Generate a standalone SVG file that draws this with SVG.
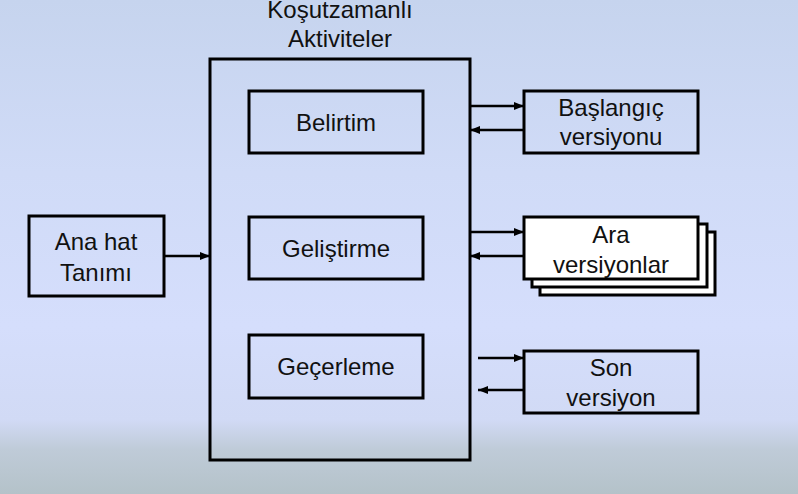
<svg xmlns="http://www.w3.org/2000/svg" width="798" height="494" viewBox="0 0 798 494">
<defs>
<linearGradient id="bg" x1="0" y1="0" x2="0" y2="1">
<stop offset="0" stop-color="#c6d4ee"/>
<stop offset="0.35" stop-color="#d0dbf7"/>
<stop offset="0.66" stop-color="#d5defc"/>
<stop offset="0.85" stop-color="#d1daf5"/>
<stop offset="0.91" stop-color="#bfcbd8"/>
<stop offset="1" stop-color="#b4c2c9"/>
</linearGradient>
<marker id="ah" markerWidth="10" markerHeight="8" refX="10" refY="4" orient="auto" markerUnits="userSpaceOnUse">
<path d="M0,0 L10,4 L0,8 Z" fill="#000"/>
</marker>
<style>
.box{fill:none;stroke:#000;stroke-width:3}
.wbox{fill:#fff;stroke:#000;stroke-width:3}
.t{font-family:"Liberation Sans",Arial,sans-serif;font-size:24px;fill:#111;text-anchor:middle}
.c{fill:none;stroke:#000;stroke-width:2.5;marker-end:url(#ah)}
</style>
</defs>
<rect x="0" y="0" width="798" height="494" fill="url(#bg)"/>

<g id="main">
<rect class="box" x="210" y="59" width="260" height="401"/>
<text class="t" x="340" y="18">Koşutzamanlı</text>
<text class="t" x="340" y="47">Aktiviteler</text>
</g>
<g id="belirtim">
<rect class="box" x="249" y="91" width="174" height="62"/>
<text class="t" x="336" y="131">Belirtim</text>
</g>
<g id="gelistirme">
<rect class="box" x="249" y="217" width="174" height="62"/>
<text class="t" x="336" y="257">Geliştirme</text>
</g>
<g id="gecerleme">
<rect class="box" x="249" y="335" width="174" height="63"/>
<text class="t" x="336" y="375">Geçerleme</text>
</g>
<g id="anahat">
<rect class="box" x="29" y="216" width="135" height="80"/>
<text class="t" x="96" y="250">Ana hat</text>
<text class="t" x="96" y="281">Tanımı</text>
</g>
<g id="baslangic">
<rect class="box" x="524" y="91" width="174" height="62"/>
<text class="t" x="611" y="116">Başlangıç</text>
<text class="t" x="611" y="145">versiyonu</text>
</g>
<g id="ara">
<rect class="wbox" x="540" y="232" width="175" height="63"/>
<rect class="wbox" x="532" y="224" width="175" height="63"/>
<rect class="wbox" x="524" y="217" width="174" height="62"/>
<text class="t" x="611" y="243">Ara</text>
<text class="t" x="611" y="273">versiyonlar</text>
</g>
<g id="son">
<rect class="box" x="524" y="351" width="174" height="62"/>
<text class="t" x="611" y="376">Son</text>
<text class="t" x="611" y="406">versiyon</text>
</g>

<g id="connectors">
<line class="c" x1="164" y1="256" x2="210" y2="256"/>
<line class="c" x1="470" y1="106" x2="524" y2="106"/>
<line class="c" x1="524" y1="130" x2="470" y2="130"/>
<line class="c" x1="470" y1="232" x2="524" y2="232"/>
<line class="c" x1="524" y1="256" x2="470" y2="256"/>
<line class="c" x1="478" y1="358" x2="524" y2="358"/>
<line class="c" x1="524" y1="390" x2="478" y2="390"/>
</g>
</svg>
